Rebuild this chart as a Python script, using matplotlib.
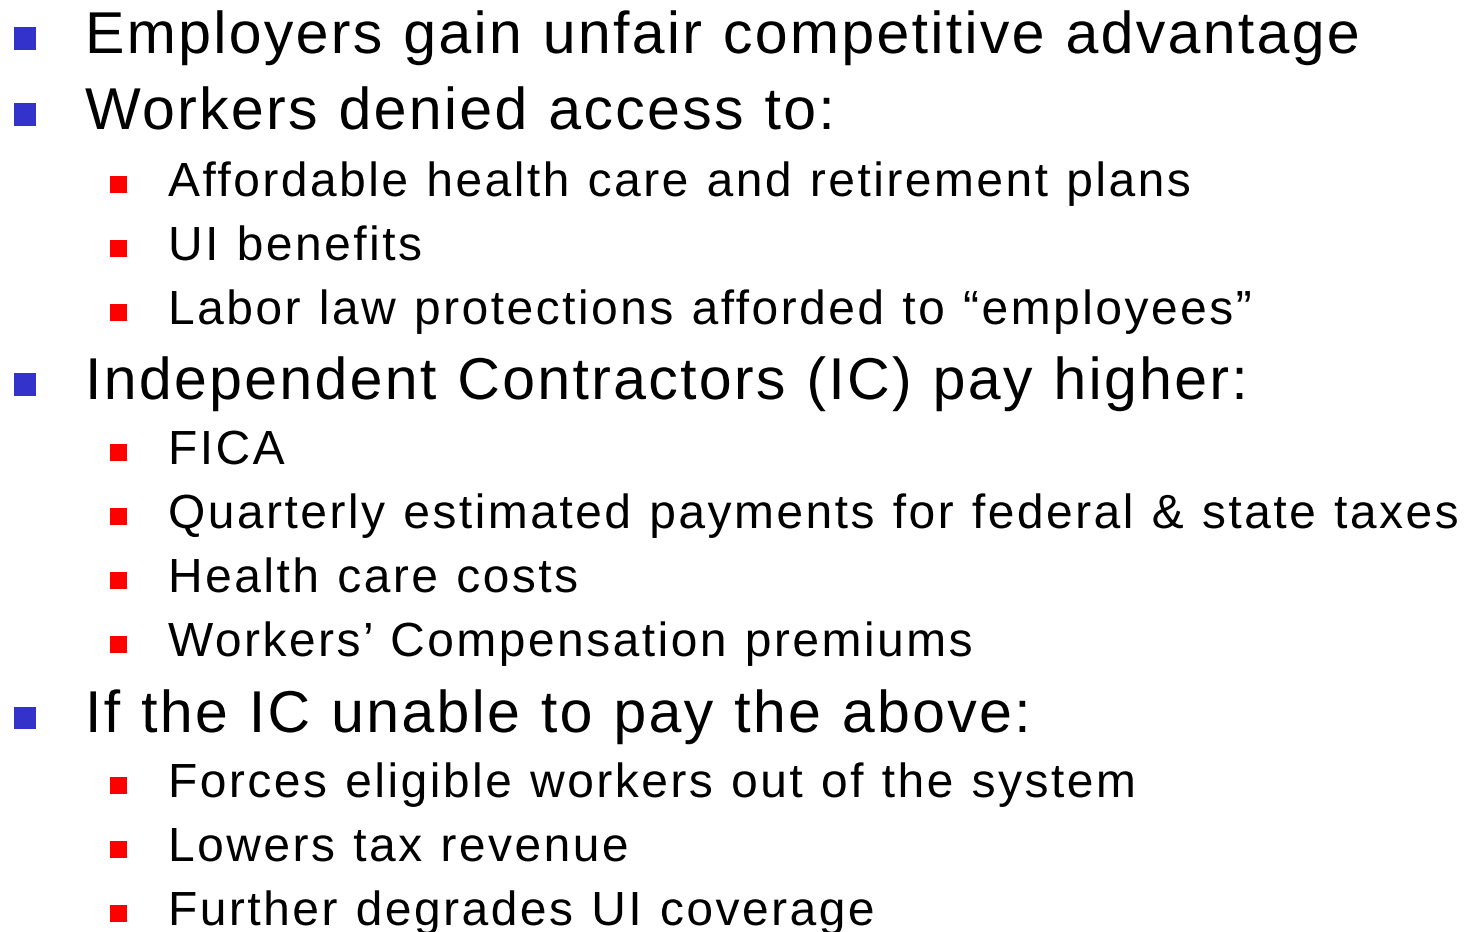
import bisect
import numpy as np
import matplotlib
matplotlib.use("Agg")
import matplotlib.pyplot as plt
from matplotlib.patches import Rectangle
from matplotlib.path import Path
from matplotlib.patheffects import AbstractPathEffect
from matplotlib.font_manager import FontProperties
from matplotlib.textpath import text_to_path

W, H = 1478, 932
items = [
    "Employers gain unfair competitive advantage",
    "Workers denied access to:",
    "Affordable health care and retirement plans",
    "UI benefits",
    "Labor law protections afforded to \u201cemployees\u201d",
    "Independent Contractors (IC) pay higher:",
    "FICA",
    "Quarterly estimated payments for federal & state taxes",
    "Health care costs",
    "Workers\u2019 Compensation premiums",
    "If the IC unable to pay the above:",
    "Forces eligible workers out of the system",
    "Lowers tax revenue",
    "Further degrades UI coverage",
]
levels = [1, 1, 2, 2, 2, 1, 2, 2, 2, 2, 1, 2, 2, 2]
baselines = [53, 129, 196, 260, 324, 399, 464, 528, 592, 656, 732, 797, 861, 925]

FAMILY = "Liberation Sans"


class Tracking(AbstractPathEffect):
    """Adds letter spacing (in font units, 100 per em) to a text's glyph path."""

    def __init__(self, s, prop, track):
        super().__init__()
        self.track = track
        try:
            font = text_to_path._get_font(prop)
            font.set_size(text_to_path.FONT_SCALE, text_to_path.DPI)
            glyph_info, _, _ = text_to_path.get_glyphs_with_font(font, s)
            self.xs = [g[1] for g in glyph_info]
        except Exception:
            self.xs = None

    def draw_path(self, renderer, gc, tpath, affine, rgbFace=None):
        if self.xs is None or tpath.codes is None:
            renderer.draw_path(gc, tpath, affine, rgbFace)
            return
        verts = np.array(tpath.vertices, dtype=float)
        codes = np.array(tpath.codes)
        starts = list(np.nonzero(codes == Path.MOVETO)[0]) + [len(codes)]
        for a, b in zip(starts[:-1], starts[1:]):
            seg = verts[a:b]
            cx = (seg[:, 0].min() + seg[:, 0].max()) / 2
            idx = max(bisect.bisect_right(self.xs, cx) - 1, 0)
            verts[a:b, 0] += idx * self.track
        renderer.draw_path(gc, Path(verts, codes), affine, rgbFace)


fig = plt.figure(figsize=(W / 100, H / 100), dpi=100)
fig.patch.set_facecolor("white")

style = {
    1: dict(tx=85, bx=14, bsize=22, lift=14.5, size=42.5, track=3.9, color="#3333CC"),
    2: dict(tx=168, bx=110, bsize=17.5, lift=11.5, size=34.5, track=5.2, color="#FF0000"),
}

for text, lvl, base in zip(items, levels, baselines):
    s = style[lvl]
    mid = base - s["lift"]
    fig.patches.append(Rectangle((s["bx"] / W, 1 - (mid + s["bsize"] / 2) / H),
                                 s["bsize"] / W, s["bsize"] / H,
                                 transform=fig.transFigure, facecolor=s["color"],
                                 edgecolor="none"))
    prop = FontProperties(family=FAMILY, size=s["size"])
    t = fig.text(s["tx"] / W, 1 - base / H, text, fontproperties=prop,
                 va="baseline", ha="left", color="black")
    t.set_path_effects([Tracking(text, prop, s["track"])])

fig.savefig("out.png", dpi=100)
